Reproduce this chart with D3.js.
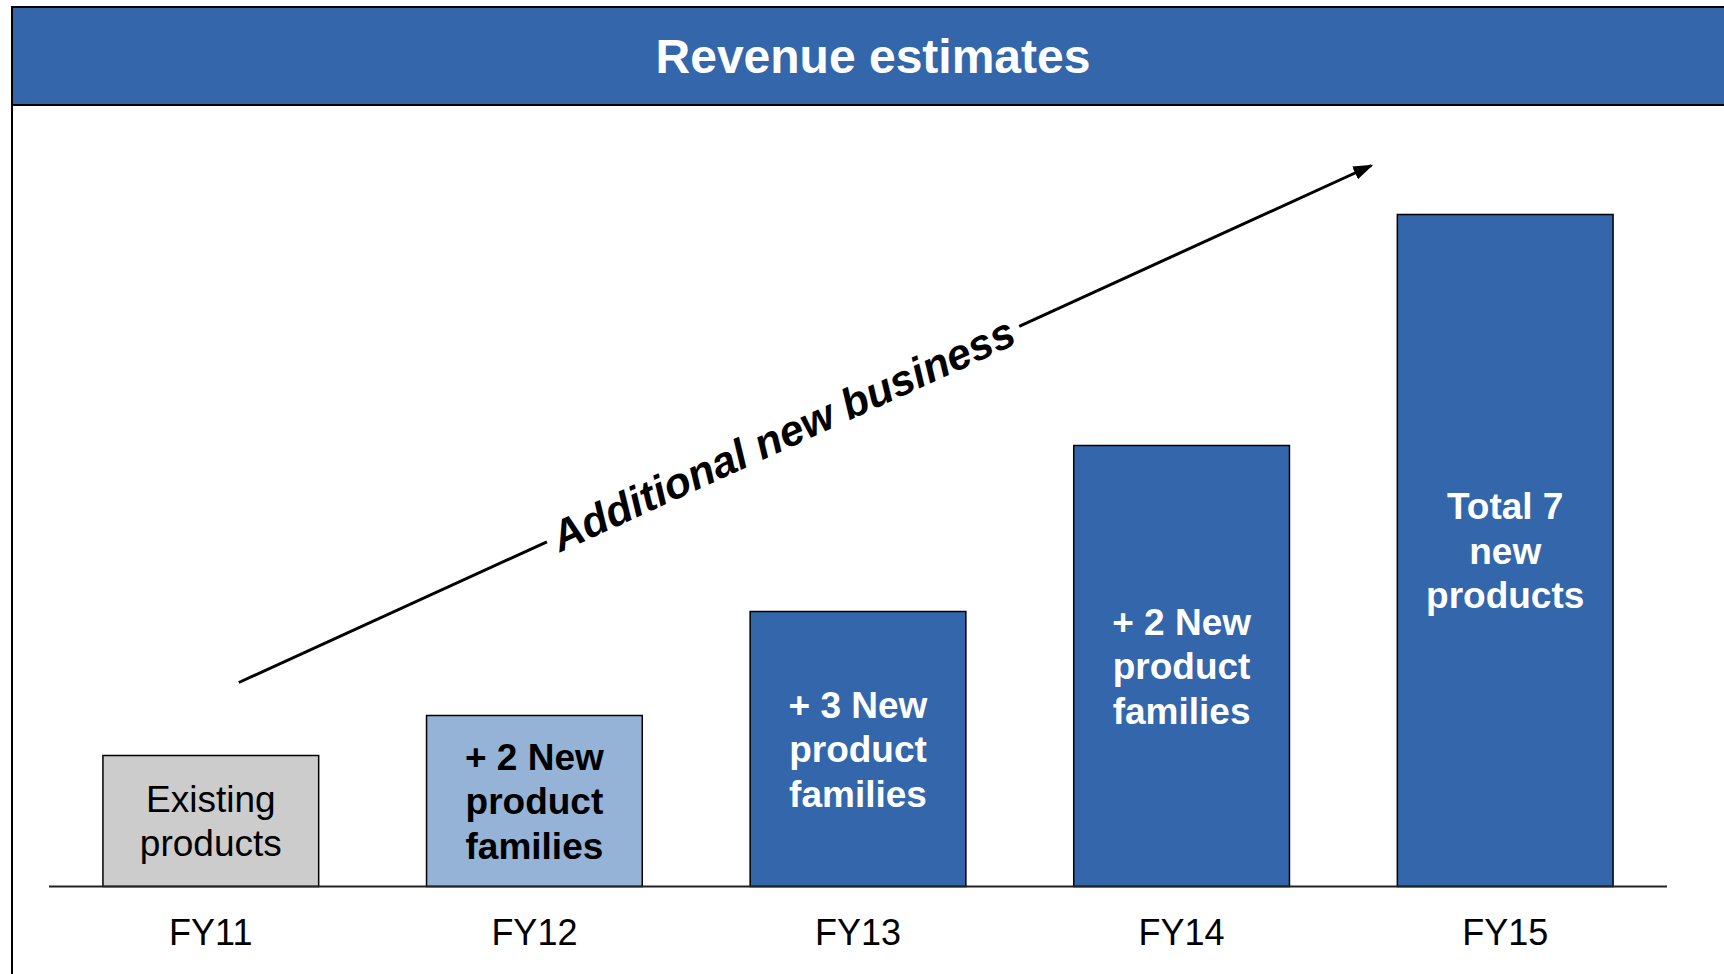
<!DOCTYPE html>
<meta charset="utf-8">
<style>
  body { margin: 0; background: #fff; }
  svg { display: block; font-family: "Liberation Sans", Arial, sans-serif; }
  .bars rect { stroke: #000; stroke-width: 1.5px; }
  .baseline { stroke: #222; stroke-width: 2px; }
</style>
<svg width="1724" height="974"></svg>
<script src="https://d3js.org/d3.v7.min.js"></script>
<script>

  // data (relative revenue, no axis shown)
  var categories = ["FY11", "FY12", "FY13", "FY14", "FY15"];
  var values = [131, 171, 275, 441, 672];
  var barLabels = [
    ["Existing", "products"],
    ["+ 2 New", "product", "families"],
    ["+ 3 New", "product", "families"],
    ["+ 2 New", "product", "families"],
    ["Total 7", "new", "products"]
  ];
  var title = "Revenue estimates";
  var arrowLabel = "Additional new business";
  // arrow runs from a point near FY11 to a point left of FY15, in value units
  var arrowFrom = { cat: "FY11", at: 0.63, value: 204 };
  var arrowTo = { cat: "FY15", at: -0.12, value: 721 };

  var svg = d3.select("svg"),
    width = +svg.attr("width"),
    height = +svg.attr("height");

  var blue = "#3366aa";

  var x = d3.scaleBand()
    .domain(categories)
    .range([49, 1667])
    .paddingInner(1 / 3)
    .paddingOuter(1 / 6);

  var y = d3.scaleLinear()
    .domain([0, 700])
    .range([886.5, 186.5]);

  var fill = d3.scaleOrdinal().domain(categories)
    .range(["#cccccc", "#95b3d7", blue, blue, blue]);
  var ink = d3.scaleOrdinal().domain(categories)
    .range(["#000", "#000", "#fff", "#fff", "#fff"]);
  var weight = d3.scaleOrdinal().domain(categories)
    .range(["normal", "bold", "bold", "bold", "bold"]);

  var rows = categories.map(function(c, i) {
    return { cat: c, value: values[i], lines: barLabels[i] };
  });

  // frame + title band
  svg.append("line")
    .attr("x1", 12).attr("x2", 12)
    .attr("y1", 7).attr("y2", height)
    .attr("stroke", "#000").attr("stroke-width", 2);

  svg.append("rect")
    .attr("x", 12).attr("y", 7)
    .attr("width", width + 20).attr("height", 98)
    .attr("fill", blue)
    .attr("stroke", "#000").attr("stroke-width", 2);

  svg.append("text")
    .attr("x", 873).attr("y", 73)
    .attr("text-anchor", "middle")
    .attr("fill", "#fff")
    .style("font-size", "48px")
    .style("font-weight", "bold")
    .text(title);

  // bars
  var bar = svg.append("g").attr("class", "bars")
    .selectAll("g")
    .data(rows)
    .enter().append("g");

  bar.append("rect")
    .attr("x", function(d) { return x(d.cat); })
    .attr("y", function(d) { return y(d.value); })
    .attr("width", x.bandwidth())
    .attr("height", function(d) { return y(0) - y(d.value); })
    .attr("fill", function(d) { return fill(d.cat); });

  var lineH = 44.5;
  bar.append("text")
    .attr("text-anchor", "middle")
    .attr("fill", function(d) { return ink(d.cat); })
    .style("font-size", "37px")
    .style("font-weight", function(d) { return weight(d.cat); })
    .each(function(d) {
      var mid = (y(0) + y(d.value)) / 2;
      var n = d.lines.length;
      d3.select(this).selectAll("tspan")
        .data(d.lines)
        .enter().append("tspan")
        .attr("x", x(d.cat) + x.bandwidth() / 2)
        .attr("y", function(t, i) { return mid + (i - (n - 1) / 2) * lineH + 13; })
        .text(function(t) { return t; });
    });

  // baseline + category labels
  svg.append("line").attr("class", "baseline")
    .attr("x1", x.range()[0]).attr("x2", x.range()[1])
    .attr("y1", y(0)).attr("y2", y(0));

  svg.append("g")
    .selectAll("text")
    .data(categories)
    .enter().append("text")
    .attr("x", function(d) { return x(d) + x.bandwidth() / 2; })
    .attr("y", 945)
    .attr("text-anchor", "middle")
    .style("font-size", "36px")
    .text(function(d) { return d; });

  // growth arrow, broken where its label sits
  svg.append("defs").append("marker")
    .attr("id", "head")
    .attr("markerUnits", "userSpaceOnUse")
    .attr("markerWidth", 20).attr("markerHeight", 16)
    .attr("refX", 18).attr("refY", 8)
    .attr("orient", "auto")
    .append("path")
    .attr("d", "M 0 1 L 20 8 L 0 15 Z")
    .attr("fill", "#000");

  var p0 = [x(arrowFrom.cat) + x.bandwidth() * arrowFrom.at, y(arrowFrom.value)];
  var p1 = [x(arrowTo.cat) + x.bandwidth() * arrowTo.at, y(arrowTo.value)];
  var at = function(t) { return [p0[0] + (p1[0] - p0[0]) * t, p0[1] + (p1[1] - p0[1]) * t]; };
  var angle = Math.atan2(p1[1] - p0[1], p1[0] - p0[0]) * 180 / Math.PI;
  var gapA = at(0.272), gapB = at(0.689), mid = at(0.4805);

  svg.append("line")
    .attr("x1", p0[0]).attr("y1", p0[1])
    .attr("x2", gapA[0]).attr("y2", gapA[1])
    .attr("stroke", "#000").attr("stroke-width", 3);

  svg.append("line")
    .attr("x1", gapB[0]).attr("y1", gapB[1])
    .attr("x2", p1[0]).attr("y2", p1[1])
    .attr("stroke", "#000").attr("stroke-width", 3)
    .attr("marker-end", "url(#head)");

  svg.append("text")
    .attr("transform", "translate(" + mid[0] + "," + mid[1] + ") rotate(" + angle + ")")
    .attr("text-anchor", "middle")
    .attr("dy", "0.35em")
    .style("font-size", "43px")
    .style("font-weight", "bold")
    .style("font-style", "italic")
    .text(arrowLabel);

</script>
